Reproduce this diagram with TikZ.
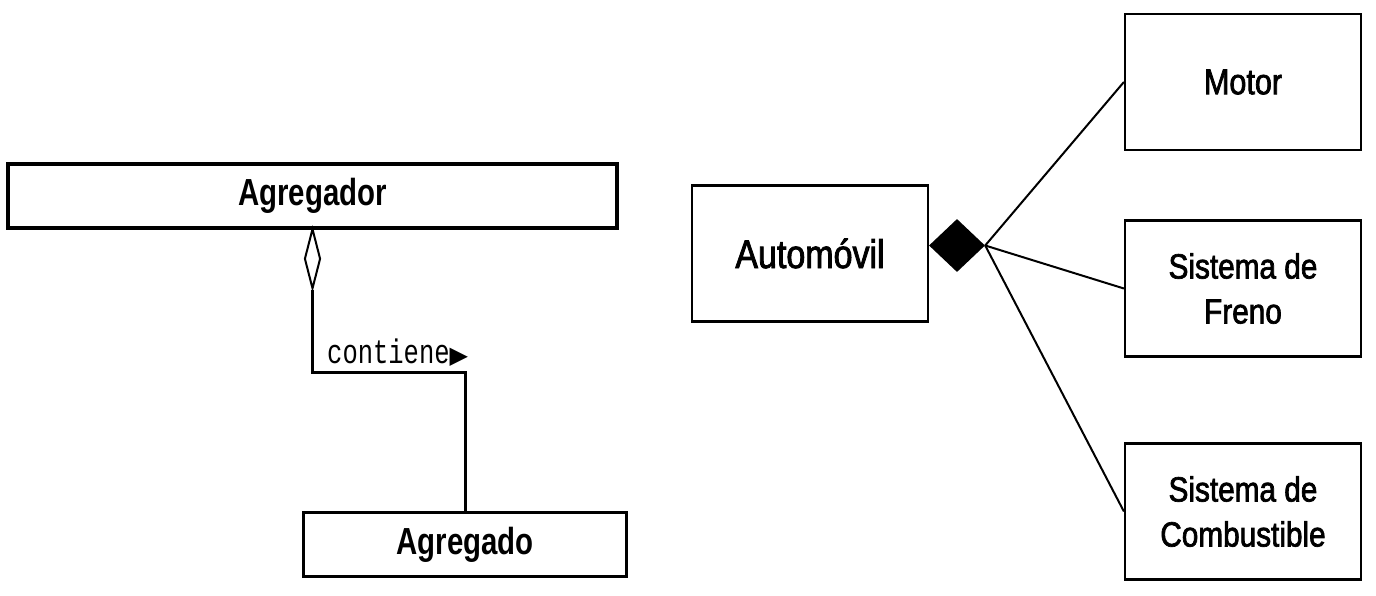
\documentclass[tikz,border=0pt]{standalone}
\usepackage{fontspec}
\usepackage{tikz}
\usetikzlibrary{arrows,positioning,shapes.geometric}

\newfontfamily\clasefont[FakeStretch=0.78]{Liberation Sans Bold}
\newfontfamily\cajafont[FakeStretch=0.85,FakeBold=2]{Liberation Sans}
\newfontfamily\rolfont[FakeStretch=0.75]{Liberation Mono}
\newfontfamily\simbolofont{DejaVu Sans}

\begin{document}
\begin{tikzpicture}[x=1pt,y=-1pt]

\tikzset{clase/.style={draw, line width=3.5pt, inner sep=0pt, font=\clasefont\fontsize{37.7}{45}\selectfont},
  caja/.style={draw, line width=2.2pt, minimum width=236pt, minimum height=136pt, align=center, inner sep=0pt, font=\cajafont\fontsize{35}{45}\selectfont},
  rombohueco/.style={draw, diamond, line width=2pt, fill=white, inner sep=0pt, minimum width=16pt, minimum height=60pt},
  rombolleno/.style={diamond, fill=black, inner sep=0pt, minimum width=56pt, minimum height=53pt},
  agrega/.style={line width=3pt},
  compone/.style={line width=2pt}}

    \useasboundingbox (0,0) rectangle (1376,596);

    % Left diagram
    \node[clase, minimum width=609pt, minimum height=64pt] (Agregador) at (312.5,196) {Agregador};
    \node[clase, minimum width=323pt, minimum height=64pt] (Agregado) at (465,544.5) {Agregado};
    \node[rombohueco, below=-2pt of Agregador] (rombo) {};
    \node[anchor=base west, inner sep=0pt, font=\rolfont\fontsize{34}{40}\selectfont] (rol) at (327,363) {contiene{\simbolofont\fontsize{24}{28}\selectfont ▶}};
    \draw[agrega] (rombo.south) -- ++(0,83) -| (Agregado.north);

    % Right diagram
    \node[caja, font=\cajafont\fontsize{40}{48}\selectfont] (Automovil) at (810,253.5) {Automóvil};
    \node[caja, font=\cajafont\fontsize{36}{45}\selectfont] (Motor) at (1243,82) {Motor};
    \node[caja] (Freno) at (1243,288.5) {Sistema de\\Freno};
    \node[caja] (Combustible) at (1243,511.5) {Sistema de\\Combustible};
    \node[rombolleno] (union) at (957,245.5) {};
    \foreach \parte in {Motor,Freno,Combustible}
      \draw[compone] (union.east) -- (\parte.west);

\end{tikzpicture}
\end{document}
